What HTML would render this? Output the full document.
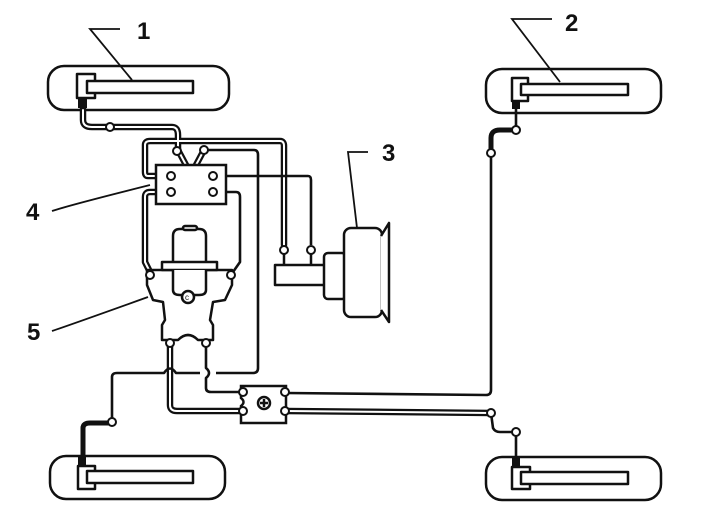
<!DOCTYPE html>
<html><head><meta charset="utf-8"><style>
html,body{margin:0;padding:0;background:#fff}
svg{display:block}
text{font-family:"Liberation Sans",sans-serif;font-weight:bold;font-size:24px;fill:#111}
</style></head><body>
<svg width="720" height="529" viewBox="0 0 720 529" xmlns="http://www.w3.org/2000/svg">
<g fill="none" stroke="#111" stroke-width="2.5" stroke-linejoin="round" stroke-linecap="round">
<rect x="48" y="66" width="181" height="44" rx="16"/>
<rect x="486" y="69" width="175" height="44" rx="16"/>
<rect x="50" y="456" width="175" height="43" rx="16"/>
<rect x="486" y="457" width="175" height="43" rx="16"/>
<rect x="77" y="74" width="18" height="24"/><rect x="87" y="81" width="106" height="12" fill="#fff"/>
<rect x="512" y="78" width="16" height="23"/><rect x="521" y="84" width="107" height="11" fill="#fff"/>
<rect x="78" y="466" width="17" height="23"/><rect x="87" y="471" width="106" height="12" fill="#fff"/>
<rect x="512" y="467" width="18" height="22"/><rect x="521" y="472" width="107" height="12" fill="#fff"/>
</g>
<g fill="#111"><rect x="78" y="98" width="9" height="10"/><rect x="512" y="101" width="8" height="8"/><rect x="78" y="456" width="8" height="10"/><rect x="512" y="457" width="8" height="10"/></g>

<g fill="none" stroke="#111" stroke-width="6.5" stroke-linejoin="round" stroke-linecap="round">
<path d="M83,108 L83,120 Q83,127 92,127 L172,127 Q178,127 178,135 L178,150 L186,165"/>
<path d="M171,176 L148,176 Q145,176 145,172 L145,145 Q145,141 150,141 L280,141 Q284,141 284,146 L284,245"/>
<path d="M171,192 L150,192 Q145,192 145,197 L145,262 L150,272"/>
<path d="M204,150 L196,165"/>
<path d="M170,345 L170,405 Q170,411 177,411 L241,411"/>
<path d="M286,411 L491,413"/>
</g>
<g fill="none" stroke="#fff" stroke-width="2" stroke-linejoin="round" stroke-linecap="round">
<path d="M83,110 L83,120 Q83,127 92,127 L172,127 Q178,127 178,135 L178,150 L186,165"/>
<path d="M171,176 L148,176 Q145,176 145,172 L145,145 Q145,141 150,141 L280,141 Q284,141 284,146 L284,245"/>
<path d="M171,192 L150,192 Q145,192 145,197 L145,262 L150,272"/>
<path d="M204,150 L196,165"/>
<path d="M170,345 L170,405 Q170,411 177,411 L241,411"/>
<path d="M286,411 L491,413"/>
</g>
<g fill="none" stroke="#111" stroke-width="2.6" stroke-linejoin="round">
<path d="M204,150 L254,150 Q258,150 258,155 L258,368 Q258,373 253,373 L216,373"/>
<path d="M213,176 L308,176 Q311,176 311,180 L311,245"/>
<path d="M213,192 L236,192 Q240,192 240,197 L240,262 L233,272"/>
<path d="M206,345 L206,368 Q212,373 206,378 L206,388 Q206,392 211,392 L242,392"/>
<path d="M112,422 L112,377 Q112,373 117,373 L164,373 Q170,364 176,373 L200,373"/>
<path d="M286,393 L486,395 Q491,395 491,390 L491,155"/>
<path d="M516,109 L516,128"/>
<path d="M491,413 L493,428 Q495,432 500,432 L516,432 L516,457"/>
<line x1="83" y1="425" x2="83" y2="456"/>
</g>
<g fill="none" stroke="#111" stroke-width="5" stroke-linejoin="round" stroke-linecap="round">
<path d="M83,458 L83,428 Q83,423 90,423 L108,423"/>
<path d="M491,150 L491,138 Q491,130 500,130 L512,130"/>
</g>
<rect x="156" y="165" width="70" height="39" fill="#fff" stroke="#111" stroke-width="2.5"/>
<g fill="#fff" stroke="#111" stroke-width="2.5" stroke-linejoin="round">
<rect x="275" y="265" width="50" height="20"/>
<rect x="324" y="253" width="22" height="46" rx="4"/>
<rect x="344" y="228" width="38" height="89" rx="7"/>
<path d="M381,236 L389,223 L389,322 L381,310"/>
<line x1="284" y1="250" x2="284" y2="265"/><line x1="311" y1="250" x2="311" y2="265"/>
</g>
<g fill="#fff" stroke="#111" stroke-width="2.5" stroke-linejoin="round">
<path d="M147,270 L147,285 L153,300 L163,302 L165,320 L162,325 L162,340 L178,340 Q188,330 198,340 L213,340 L213,325 L210,320 L213,302 L225,300 L232,285 L232,270 Z"/>
<path d="M173,262 L173,236 Q173,229 180,229 L199,229 Q206,229 206,236 L206,262"/>
<rect x="183" y="226" width="14" height="4" rx="2"/>
<rect x="162" y="262" width="55" height="8"/>
<path d="M173,270 L173,290 Q173,295 180,295 L199,295 Q206,295 206,290 L206,270"/>
<circle cx="188" cy="297" r="6"/>
</g>
<text x="185" y="300" style="font-size:8px;font-weight:normal">c</text>
<g fill="#fff" stroke="#111" stroke-width="2.5">
<path d="M241,386 L286,386 L286,423 L241,423 L241,406 Q246,402 241,398 Z"/>
<circle cx="264" cy="403" r="6"/>
<line x1="260" y1="403" x2="268" y2="403"/><line x1="264" y1="399" x2="264" y2="407"/>
</g>
<g fill="#fff" stroke="#111" stroke-width="2">
<circle cx="110" cy="127" r="4"/><circle cx="177" cy="151" r="4"/><circle cx="204" cy="150" r="4"/>
<circle cx="171" cy="176" r="4"/><circle cx="171" cy="192" r="4"/><circle cx="213" cy="176" r="4"/><circle cx="213" cy="192" r="4"/>
<circle cx="284" cy="250" r="4"/><circle cx="311" cy="250" r="4"/>
<circle cx="150" cy="275" r="4"/><circle cx="231" cy="275" r="4"/>
<circle cx="170" cy="343" r="4"/><circle cx="206" cy="343" r="4"/>
<circle cx="243" cy="392" r="4"/><circle cx="243" cy="411" r="4"/><circle cx="285" cy="392" r="4"/><circle cx="285" cy="411" r="4"/>
<circle cx="112" cy="422" r="4"/><circle cx="491" cy="153" r="4"/><circle cx="516" cy="130" r="4"/>
<circle cx="491" cy="413" r="4"/><circle cx="516" cy="432" r="4"/>
</g>
<g fill="none" stroke="#111" stroke-width="1.8">
<path d="M120,29 L90,29 L132,80"/>
<path d="M552,19 L512,19 L560,82"/>
<path d="M368,152 L348,152 L357,228"/>
<path d="M52,211 Q70,205 150,185"/>
<path d="M52,331 Q70,325 148,297"/>
</g>
<text x="137" y="39">1</text>
<text x="565" y="31">2</text>
<text x="382" y="161">3</text>
<text x="26" y="220">4</text>
<text x="27" y="340">5</text>
</svg>
</body></html>
